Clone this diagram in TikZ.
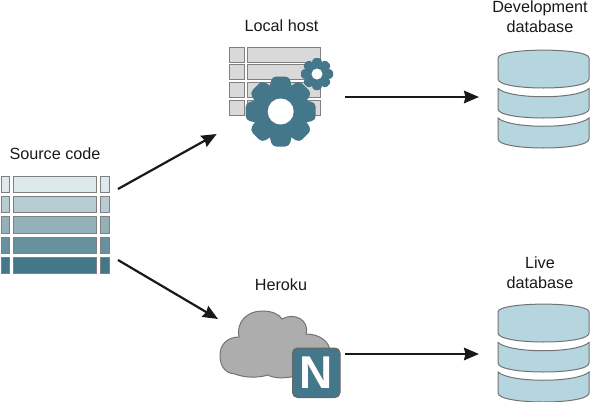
\documentclass[tikz,border=0pt]{standalone}
\usepackage{fontspec}
\setmainfont{Liberation Sans}
\usetikzlibrary{arrows.meta}
\definecolor{teal}{HTML}{44778A}
\definecolor{gearblue}{HTML}{44778A}
\definecolor{dbfill}{HTML}{B5D6DF}
\definecolor{rowA}{HTML}{DDE9EC}
\definecolor{rowB}{HTML}{B7CCD3}
\definecolor{rowC}{HTML}{94B1B9}
\definecolor{rowD}{HTML}{68919F}
\definecolor{rowE}{HTML}{44778A}
\tikzset{
  lbl/.style={font=\fontsize{16.2}{20}\selectfont, align=center, text=black!90, inner sep=0pt},
  conn/.style={draw=black!90, line width=2.2pt, -{Stealth[length=15pt,width=12.5pt,inset=1.5pt]}},
  cell/.style={draw=black!50, line width=1pt},
  dbband/.style={draw=black!55, line width=1pt, fill=dbfill},
  gearshape/.style={fill=gearblue, draw=none},
  cloudshape/.style={draw=black!55, line width=1pt, fill=black!32},
}
\newcommand{\srcrow}[2]{%
  \path[cell, fill=#2] (1,#1) rectangle (9,#1+16.6);
  \path[cell, fill=#2] (13,#1) rectangle (96.7,#1+16.6);
  \path[cell, fill=#2] (100.5,#1) rectangle (109,#1+16.6);
}
\newcommand{\hostrow}[1]{%
  \path[cell, fill=black!15] (229,#1) rectangle (244,#1+15);
  \path[cell, fill=black!15] (247.5,#1) rectangle (320.7,#1+15);
}
% centre x, centre y, outer radius, body radius, hole radius
\newcommand{\gearicon}[5]{%
  \begin{scope}[shift={(#1,#2)}]
    \foreach \a in {0,45,...,315}{
      \fill[gearshape, rotate=\a, rounded corners=#3*0.12pt]
        (-#3*0.34,-#4*0.8) -- (-#3*0.25,-#3) -- (#3*0.25,-#3) -- (#3*0.34,-#4*0.8) -- cycle;
    }
    \fill[gearshape] (0,0) circle[radius=#4];
    \fill[white] (0,0) circle[radius=#5];
  \end{scope}
}
\newcommand{\dbicon}[1]{%
  \begin{scope}[shift={(0,#1)}]
    \path[dbband] (498,118) .. controls (510,129) and (577,129) .. (589,118)
      -- (589,139) .. controls (589,151) and (498,151) .. (498,139) -- cycle;
    \path[dbband] (498,88.5) .. controls (510,99.5) and (577,99.5) .. (589,88.5)
      -- (589,109) .. controls (589,121) and (498,121) .. (498,109) -- cycle;
    \path[dbband] (498,58) .. controls (498,47.5) and (589,47.5) .. (589,58)
      -- (589,79) .. controls (589,91) and (498,91) .. (498,79) -- cycle;
  \end{scope}
}
\begin{document}
\begin{tikzpicture}[x=1pt,y=-1pt]
  \useasboundingbox (0,0) rectangle (590,402);

  % Source code
  \srcrow{176}{rowA}
  \srcrow{196.3}{rowB}
  \srcrow{216.6}{rowC}
  \srcrow{237}{rowD}
  \srcrow{257.3}{rowE}

  % Local host
  \hostrow{47}
  \hostrow{64.6}
  \hostrow{82.3}
  \hostrow{100}
  \gearicon{317}{74}{16}{11.5}{5.5}
  \gearicon{280.7}{111.5}{35}{25.5}{13}

  % Heroku
  \path[cloudshape] (235,374)
    .. controls (222,373) and (220,362) .. (220,355)
    .. controls (220,344) and (228,337) .. (239,337)
    .. controls (236,322) and (247,311) .. (262,311)
    .. controls (272,311) and (279,314) .. (282,319)
    .. controls (294,312) and (310,320) .. (306,334)
    .. controls (320,334) and (330,342) .. (330,352)
    -- (295,376)
    .. controls (285,379) and (272,378) .. (268,375)
    .. controls (258,378) and (245,378) .. (235,374) -- cycle;
  \path[draw=black!60, line width=1pt, fill=teal, rounded corners=5pt] (292.5,348) rectangle (340,397.5);
  \node[font=\fontsize{46}{46}\selectfont\bfseries, text=white, inner sep=0pt] (nletter) at (316.2,372.8) {N};

  % Databases
  \dbicon{0}
  \dbicon{254}

  % Labels
  \node[lbl] (source) at (55,154) {Source code};
  \node[lbl] (local) at (281.5,25.5) {Local host};
  \node[lbl] (heroku) at (281,285) {Heroku};
  \node[lbl] (dev) at (540,17) {Development\\database};
  \node[lbl] (live) at (540,273) {Live\\database};

  % Connector ends
  \coordinate (srcA) at (118,189);
  \coordinate (srcB) at (118,260);
  \coordinate (hostIn) at (216.7,134);
  \coordinate (hostOut) at (345,97);
  \coordinate (herokuIn) at (218,319);
  \coordinate (herokuOut) at (345,354);
  \coordinate (devIn) at (479,97);
  \coordinate (liveIn) at (479,354);

  \draw[conn] (srcA) -- (hostIn);
  \draw[conn] (srcB) -- (herokuIn);
  \draw[conn] (hostOut) -- (devIn);
  \draw[conn] (herokuOut) -- (liveIn);
\end{tikzpicture}
\end{document}
